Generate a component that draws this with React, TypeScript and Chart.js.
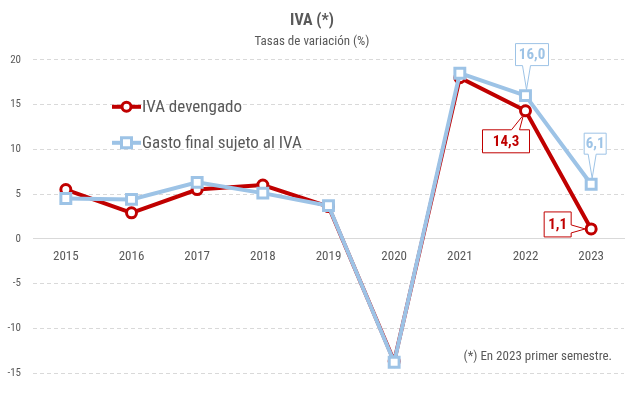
import React, { useEffect, useRef } from "react";
import { Chart, registerables } from "chart.js";

Chart.register(...registerables);

const years = ["2015", "2016", "2017", "2018", "2019", "2020", "2021", "2022", "2023"];
const ivaDevengado = [5.5, 2.9, 5.5, 6.0, 3.6, -13.7, 18.0, 14.3, 1.1];
const gastoFinal = [4.5, 4.4, 6.3, 5.1, 3.7, -13.8, 18.5, 16.0, 6.1];
const yTicks = [-15, -10, -5, 0, 5, 10, 15, 20];
const seriesNames = ["IVA devengado", "Gasto final sujeto al IVA"];
const titleText = "IVA (*)";
const subtitleText = "Tasas de variación (%)";
const footnoteText = "(*) En 2023 primer semestre.";
// indices that carry callout labels
const redLabelIdx = [7, 8];
const blueLabelIdx = [7, 8];

const RED = "#C00000";
const BLUE = "#9DC3E6";
const GREY = "#595959";
const GRID = "#D9D9D9";
const FONT = "'Liberation Sans Narrow', 'Arial Narrow', 'Roboto Condensed', 'Liberation Sans', sans-serif";

const fmt = (v: number) => v.toFixed(1).replace(".", ",");

type Callout = {
  ds: number;
  idx: number;
  color: string;
  // box relative to point
  bx0: number; by0: number; bx1: number; by1: number;
  edge: "top" | "bottom" | "right";
  a: number; b: number; // base positions along edge (relative)
  apx: number; apy: number; // apex relative to point
};

const callouts: Callout[] = [
  { ds: 0, idx: redLabelIdx[0], color: RED, bx0: -43, by0: 19, bx1: 4, by1: 42, edge: "top", a: -14, b: -6, apx: -2, apy: 4 },
  { ds: 0, idx: redLabelIdx[1], color: RED, bx0: -47, by0: -17, bx1: -20, by1: 8, edge: "right", a: -4, b: 4, apx: -6, apy: 0 },
  { ds: 1, idx: blueLabelIdx[0], color: BLUE, bx0: -10, by0: -52, bx1: 23, by1: -30, edge: "bottom", a: -3, b: 5, apx: 1, apy: -6 },
  { ds: 1, idx: blueLabelIdx[1], color: BLUE, bx0: -7, by0: -51, bx1: 15, by1: -30, edge: "bottom", a: -3, b: 5, apx: 1, apy: -6 },
];

const overlayPlugin = {
  id: "overlay",
  afterDatasetsDraw(chart: any) {
    const ctx = chart.ctx as CanvasRenderingContext2D;
    const area = chart.chartArea;
    ctx.save();

    // Legend
    const legendItems = [
      { name: seriesNames[0], color: RED, style: "circle", y: area.top + 47 },
      { name: seriesNames[1], color: BLUE, style: "rect", y: area.top + 83 },
    ];
    const lx = area.left + 79;
    legendItems.forEach((it) => {
      ctx.strokeStyle = it.color;
      ctx.lineWidth = 4;
      ctx.beginPath();
      ctx.moveTo(lx, it.y);
      ctx.lineTo(lx + 29, it.y);
      ctx.stroke();
      ctx.fillStyle = "#fff";
      ctx.lineWidth = 3;
      ctx.beginPath();
      if (it.style === "circle") {
        ctx.arc(lx + 14.5, it.y, 4.5, 0, Math.PI * 2);
      } else {
        ctx.rect(lx + 14.5 - 5, it.y - 5, 10, 10);
      }
      ctx.fill();
      ctx.stroke();
      ctx.fillStyle = GREY;
      ctx.font = `17px ${FONT}`;
      ctx.textAlign = "left";
      ctx.textBaseline = "middle";
      ctx.fillText(it.name, lx + 30, it.y + 1);
    });

    // Callouts
    callouts.forEach((c) => {
      const meta = chart.getDatasetMeta(c.ds);
      const pt = meta.data[c.idx];
      const px = pt.x, py = pt.y;
      const x0 = px + c.bx0, y0 = py + c.by0, x1 = px + c.bx1, y1 = py + c.by1;
      const ax = px + c.apx, ay = py + c.apy;
      ctx.beginPath();
      ctx.moveTo(x0, y0);
      if (c.edge === "top") {
        ctx.lineTo(px + c.a, y0);
        ctx.lineTo(ax, ay);
        ctx.lineTo(px + c.b, y0);
      }
      ctx.lineTo(x1, y0);
      if (c.edge === "right") {
        ctx.lineTo(x1, py + c.a);
        ctx.lineTo(ax, ay);
        ctx.lineTo(x1, py + c.b);
      }
      ctx.lineTo(x1, y1);
      if (c.edge === "bottom") {
        ctx.lineTo(px + c.b, y1);
        ctx.lineTo(ax, ay);
        ctx.lineTo(px + c.a, y1);
      }
      ctx.lineTo(x0, y1);
      ctx.closePath();
      ctx.fillStyle = "#fff";
      ctx.fill();
      ctx.lineWidth = 1;
      ctx.strokeStyle = c.color;
      ctx.stroke();
      const val = chart.data.datasets[c.ds].data[c.idx] as number;
      ctx.fillStyle = c.color;
      ctx.font = `bold 15px ${FONT}`;
      ctx.textAlign = "center";
      ctx.textBaseline = "middle";
      ctx.fillText(fmt(val), (x0 + x1) / 2, (y0 + y1) / 2 + 1);
    });

    // Footnote
    ctx.fillStyle = GREY;
    ctx.font = `13px ${FONT}`;
    ctx.textAlign = "right";
    ctx.textBaseline = "middle";
    ctx.fillText(footnoteText, area.right - 12, area.top + 297);

    ctx.restore();
  },
};

export default function App() {
  const ref = useRef<HTMLCanvasElement | null>(null);
  useEffect(() => {
    if (!ref.current) return;
    const chart = new Chart(ref.current, {
      type: "line",
      data: {
        labels: years,
        datasets: [
          {
            label: seriesNames[0],
            data: ivaDevengado,
            borderColor: RED,
            backgroundColor: "#fff",
            borderWidth: 4,
            tension: 0,
            pointStyle: "circle",
            pointRadius: 5,
            pointBorderWidth: 3,
            pointBackgroundColor: "#fff",
            pointBorderColor: RED,
            order: 1,
          },
          {
            label: seriesNames[1],
            data: gastoFinal,
            borderColor: BLUE,
            backgroundColor: "#fff",
            borderWidth: 4,
            tension: 0,
            pointStyle: "rect",
            pointRadius: 7,
            pointBorderWidth: 3,
            pointBackgroundColor: "#fff",
            pointBorderColor: BLUE,
            order: 0,
          },
        ],
      },
      options: {
        responsive: false,
        animation: false,
        layout: { padding: { top: 0, right: 16, bottom: 26, left: 0 } },
        plugins: {
          legend: { display: false },
          tooltip: { enabled: false },
          title: {
            display: true,
            text: titleText,
            color: GREY,
            font: { family: FONT, size: 16, weight: "bold" },
            padding: { top: 11, bottom: 4 },
          },
          subtitle: {
            display: true,
            text: subtitleText,
            color: GREY,
            font: { family: FONT, size: 13 },
            padding: { top: 0, bottom: 10 },
          },
        },
        scales: {
          x: {
            type: "category",
            position: { y: 0 } as any,
            offset: true,
            grid: { display: false, drawTicks: false, tickLength: 0 },
            border: { display: true, color: GRID, width: 1 },
            ticks: { color: GREY, font: { family: FONT, size: 13 }, padding: 10, maxRotation: 0 },
            afterFit: (s: any) => { s.height = 0; },
          },
          y: {
            min: yTicks[0],
            max: yTicks[yTicks.length - 1],
            afterBuildTicks: (s: any) => { s.ticks = yTicks.map((v) => ({ value: v })); },
            grid: {
              color: (c: any) => (c.tick && c.tick.value === 0 ? "rgba(0,0,0,0)" : GRID),
              drawTicks: false,
              tickLength: 0,
            },
            border: { display: false, dash: [4, 3] },
            ticks: { color: GREY, font: { family: FONT, size: 11 }, padding: 12 },
            afterFit: (s: any) => { s.width = 33; },
          },
        },
      },
      plugins: [overlayPlugin],
    });
    // dashed y grid
    (chart.options.scales as any).y.border.dash = [4, 3];
    chart.update();
    return () => chart.destroy();
  }, []);
  return (
    <div style={{ position: "fixed", left: 0, top: 0, width: 640, height: 399, background: "#fff" }}>
      <canvas ref={ref} width={640} height={399} />
    </div>
  );
}
